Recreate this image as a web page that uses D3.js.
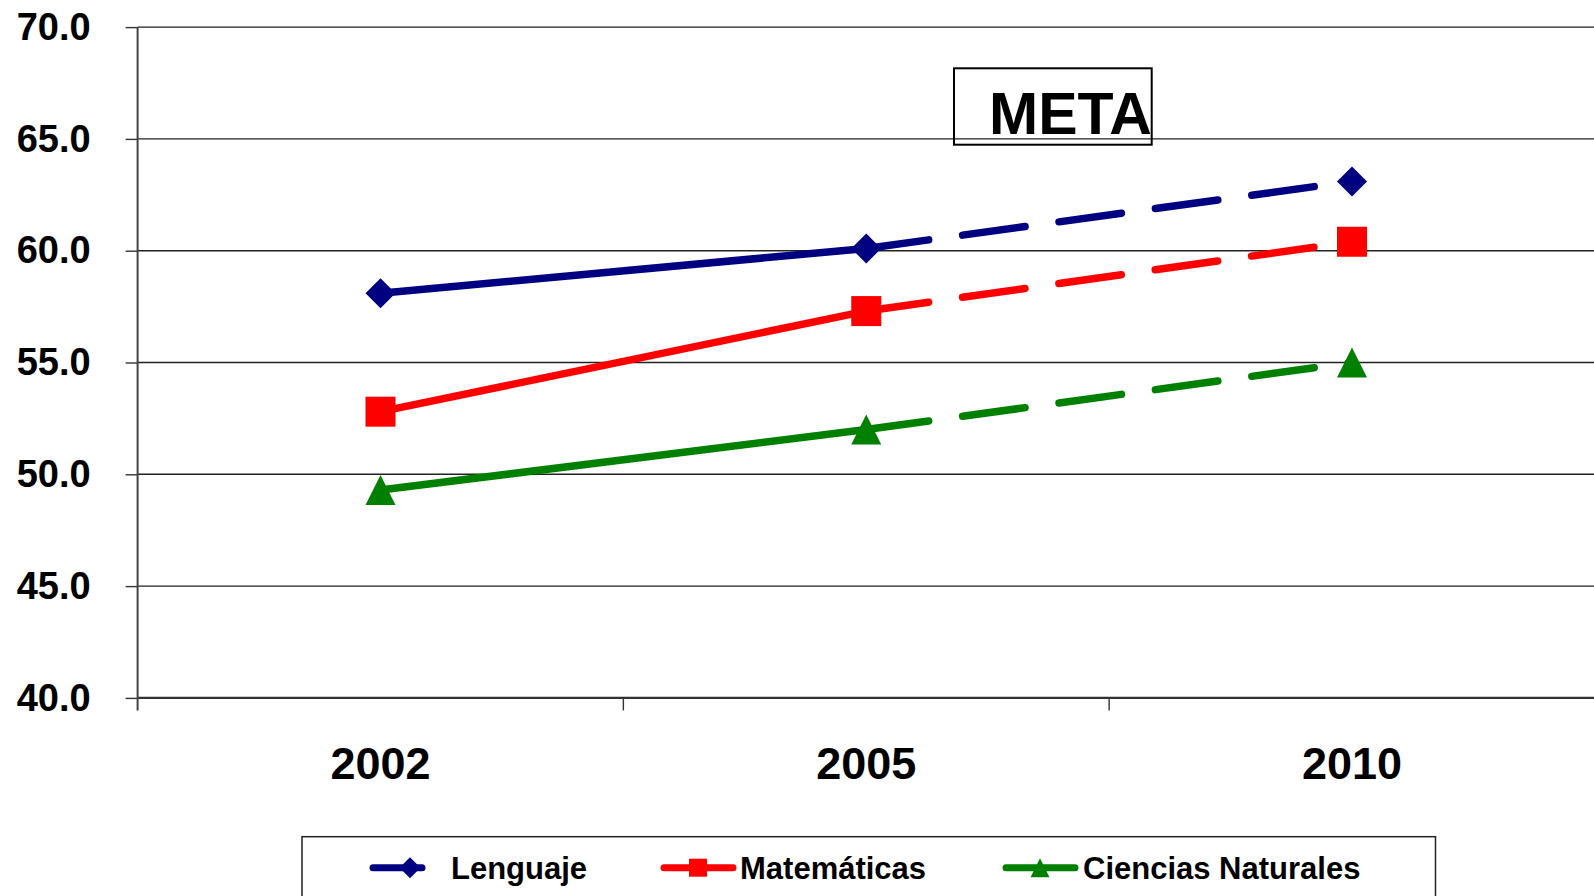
<!DOCTYPE html>
<html>
<head>
<meta charset="utf-8">
<script src="https://cdn.jsdelivr.net/npm/d3@7"></script>
<style>
  body { margin: 0; background: #fff; }
  svg { display: block; font-family: "Liberation Sans", Arial, sans-serif; font-weight: bold; }
</style>
</head>
<body>
<svg id="chart" width="1594" height="896"></svg>
<script>
// chart data
var years = ['2002', '2005', '2010'];
var lenguaje = [58.1, 60.1, 63.1];
var matematicas = [52.8, 57.3, 60.4];
var ciencias = [49.3, 52.0, 55.0];
var yTicks = [40, 45, 50, 55, 60, 65, 70];
var metaFrom = '2005';   // dashed (goal) part starts here

var series = [
    { name: 'Lenguaje', values: lenguaje, color: '#000080', shape: 'diamond' },
    { name: 'Matemáticas', values: matematicas, color: '#ff0000', shape: 'square' },
    { name: 'Ciencias Naturales', values: ciencias, color: '#008000', shape: 'triangle' }
];

var svg = d3.select('#chart');
// note: "top" is taken by window.top, so plot* names
var plotLeft = 137.6, plotRight = 1594.9, plotTop = 27.1, plotBottom = 697.9;

var x = d3.scaleBand().domain(years).range([plotLeft, plotRight]).padding(0);
var y = d3.scaleLinear().domain([40, 70]).range([plotBottom, plotTop]);

function cx(i) { return x(years[i]) + x.bandwidth() / 2; }

// marker path centered on 0,0
function markerPath(shape, s) {
    var h = s / 2;
    if (shape == 'diamond') {
        return 'M0,' + (-h) + 'L' + h + ',0L0,' + h + 'L' + (-h) + ',0Z';
    }
    else if (shape == 'square') {
        return 'M' + (-h) + ',' + (-h) + 'h' + s + 'v' + s + 'h' + (-s) + 'Z';
    }
    return 'M0,' + (-h) + 'L' + h + ',' + h + 'L' + (-h) + ',' + h + 'Z';
}

// gridlines
svg.append('g').selectAll('line').data(yTicks).enter()
    .append('line')
    .attr('x1', plotLeft).attr('x2', plotRight)
    .attr('y1', function (d) { return y(d); })
    .attr('y2', function (d) { return y(d); })
    .attr('stroke', function (d) { return d == 40 ? '#333' : '#222'; })
    .attr('stroke-width', function (d) { return d == 40 ? 2.2 : 1.4; });

// y axis
var yAxis = svg.append('g')
    .attr('transform', 'translate(' + plotLeft + ',0)')
    .call(d3.axisLeft(y).tickValues(yTicks).tickSize(12).tickPadding(35)
        .tickFormat(d3.format('.1f')));
yAxis.select('.domain').remove();
yAxis.selectAll('.tick line').attr('stroke', '#333').attr('stroke-width', 1.4);
yAxis.selectAll('text').attr('font-size', 38).attr('fill', '#000')
    .attr('font-family', '"Liberation Sans", Arial, sans-serif').attr('font-weight', 'bold');
svg.append('line')
    .attr('x1', plotLeft).attr('x2', plotLeft).attr('y1', plotTop).attr('y2', plotBottom + 12.5)
    .attr('stroke', '#444').attr('stroke-width', 2);

// x axis: ticks at category boundaries, labels centered
var bounds = years.map(function (d) { return x(d); }).concat([plotRight]);
svg.append('g').selectAll('line').data(bounds.slice(1)).enter()
    .append('line')
    .attr('x1', function (d) { return d; }).attr('x2', function (d) { return d; })
    .attr('y1', plotBottom).attr('y2', plotBottom + 12.5)
    .attr('stroke', '#333').attr('stroke-width', 1.4);

var xAxis = svg.append('g')
    .attr('transform', 'translate(0,' + plotBottom + ')')
    .call(d3.axisBottom(x).tickSize(0).tickPadding(49));
xAxis.select('.domain').remove();
xAxis.selectAll('text').attr('font-size', 45).attr('fill', '#000')
    .attr('font-family', '"Liberation Sans", Arial, sans-serif').attr('font-weight', 'bold');

// lines: solid up to metaFrom, dashed after
var split = years.indexOf(metaFrom);
var line = d3.line()
    .x(function (d) { return cx(d.i); })
    .y(function (d) { return y(d.v); });

series.forEach(function (s) {
    var pts = s.values.map(function (v, i) { return { i: i, v: v }; });
    svg.append('path')
        .attr('d', line(pts.slice(0, split + 1)))
        .attr('fill', 'none').attr('stroke', s.color).attr('stroke-width', 7.5);
    svg.append('path')
        .attr('d', line(pts.slice(split)))
        .attr('fill', 'none').attr('stroke', s.color).attr('stroke-width', 7.5)
        .attr('stroke-linecap', 'round')
        .attr('stroke-dasharray', '63,34.3');
    svg.append('g').selectAll('path').data(pts).enter()
        .append('path')
        .attr('d', markerPath(s.shape, 30))
        .attr('transform', function (d) { return 'translate(' + cx(d.i) + ',' + y(d.v) + ')'; })
        .attr('fill', s.color);
});

// META box
svg.append('rect')
    .attr('x', 954).attr('y', 68.3).attr('width', 197.7).attr('height', 76.4)
    .attr('fill', 'none').attr('stroke', '#000').attr('stroke-width', 2);
svg.append('text')
    .attr('x', 989).attr('y', 134)
    .attr('font-size', 59).attr('fill', '#000')
    .text('META');

// legend
svg.append('rect')
    .attr('x', 302).attr('y', 836.7).attr('width', 1133.5).attr('height', 100)
    .attr('fill', '#fff').attr('stroke', '#222').attr('stroke-width', 1.5);

var legendItems = [
    { x1: 373, x2: 422, mx: 410, tx: 451, ms: 21 },
    { x1: 664, x2: 733, mx: 698, tx: 740, ms: 18 },
    { x1: 1006, x2: 1075, mx: 1040, tx: 1083, ms: 19 }
];
var ly = 867.7;
var lg = svg.append('g').selectAll('g').data(series).enter().append('g');
lg.append('line')
    .attr('x1', function (d, i) { return legendItems[i].x1; })
    .attr('x2', function (d, i) { return legendItems[i].x2; })
    .attr('y1', ly).attr('y2', ly)
    .attr('stroke', function (d) { return d.color; })
    .attr('stroke-width', 7).attr('stroke-linecap', 'round');
lg.append('path')
    .attr('d', function (d, i) { return markerPath(d.shape, legendItems[i].ms); })
    .attr('transform', function (d, i) { return 'translate(' + legendItems[i].mx + ',' + ly + ')'; })
    .attr('fill', function (d) { return d.color; });
lg.append('text')
    .attr('x', function (d, i) { return legendItems[i].tx; })
    .attr('y', 879)
    .attr('font-size', 31).attr('fill', '#000')
    .text(function (d) { return d.name; });
</script>
</body>
</html>
